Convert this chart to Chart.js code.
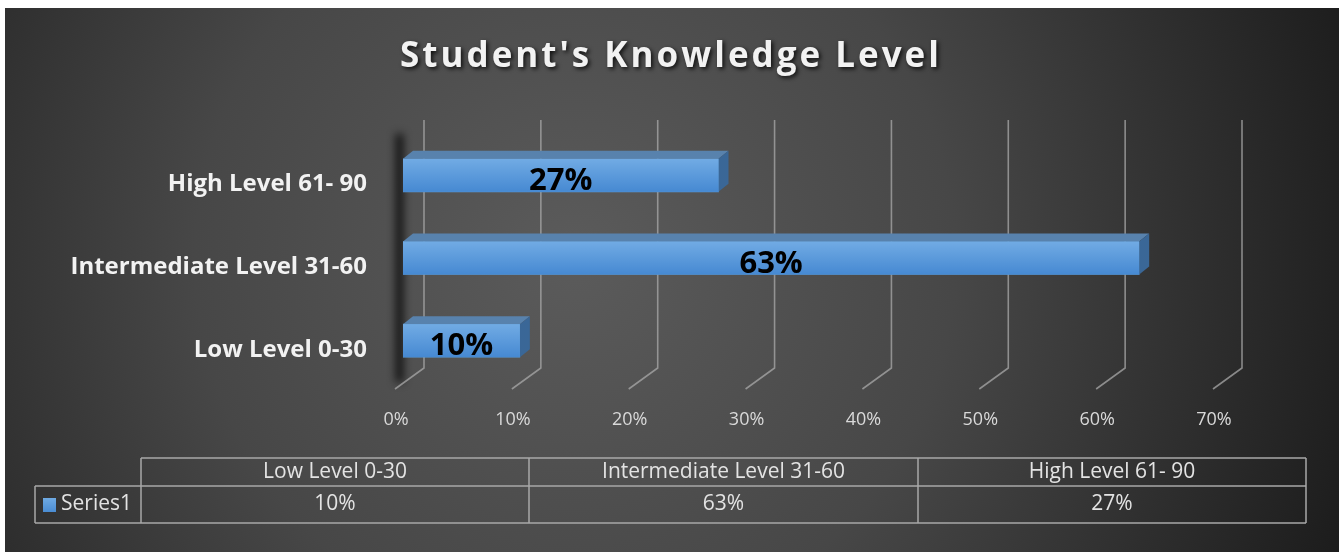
<!DOCTYPE html>
<html>
<head>
<meta charset="utf-8">
<script src="https://cdn.jsdelivr.net/npm/chart.js@4"></script>
<style>
  html, body { margin: 0; padding: 0; background: #fff; }
  #wrap { position: absolute; left: 5px; top: 8px; width: 1334px; height: 544px; }
</style>
</head>
<body>
<div id="wrap"><canvas id="myChart"></canvas></div>
<script>
const chartTitle = "Student's Knowledge Level";
const categories = ['Low Level 0-30', 'Intermediate Level 31-60', 'High Level 61- 90'];
const seriesName = 'Series1';
const seriesValues = [0.10, 0.63, 0.27];
const axisMin = 0;
const axisMax = 0.7;
const axisStep = 0.1;

const pct = v => Math.round(v * 100) + '%';
const FONT = '"Open Sans", sans-serif';

// dark radial background
const bgPlugin = {
  id: 'bg',
  beforeDraw(chart) {
    const ctx = chart.ctx;
    const w = chart.width, h = chart.height;
    const g = ctx.createRadialGradient(570, 250, 20, 570, 250, 820);
    g.addColorStop(0, '#5a5a5a');
    g.addColorStop(0.45, '#474747');
    g.addColorStop(1, '#1c1c1c');
    ctx.save();
    ctx.fillStyle = g;
    ctx.fillRect(0, 0, w, h);
    ctx.restore();
  }
};

// title with spacing + shadow
const titlePlugin = {
  id: 'title3d',
  afterDraw(chart) {
    const ctx = chart.ctx;
    ctx.save();
    ctx.font = 'bold 35px ' + FONT;
    ctx.letterSpacing = '3px';
    ctx.textAlign = 'center';
    ctx.textBaseline = 'middle';
    ctx.shadowColor = 'rgba(0,0,0,0.8)';
    ctx.shadowBlur = 4;
    ctx.shadowOffsetX = 2;
    ctx.shadowOffsetY = 2;
    ctx.fillStyle = '#f2f2f2';
    ctx.fillText(chartTitle, 666, 49);
    ctx.restore();
  }
};

// back wall grid with floor diagonals, and left wall shading
const gridPlugin = {
  id: 'grid3d',
  beforeDatasetsDraw(chart) {
    const ctx = chart.ctx;
    const xs = chart.scales.x;
    const area = chart.chartArea;
    const x0 = xs.getPixelForValue(axisMin);
    ctx.save();
    // soft shadow on the left wall (only the shadow is drawn on screen)
    ctx.shadowColor = 'rgba(0,0,0,0.85)';
    ctx.shadowBlur = 9;
    ctx.shadowOffsetX = 3000;
    ctx.fillStyle = '#000';
    ctx.fillRect(x0 - 7 - 3000, area.top, 7, area.bottom - area.top);
    ctx.restore();

    ctx.save();
    ctx.strokeStyle = 'rgba(170,170,170,0.75)';
    ctx.lineWidth = 1.6;
    xs.ticks.forEach(t => {
      const xp = xs.getPixelForValue(t.value);
      ctx.beginPath();
      ctx.moveTo(xp + 21, area.top - 14);
      ctx.lineTo(xp + 21, area.bottom - 14);
      ctx.lineTo(xp - 8, area.bottom + 7);
      ctx.stroke();
    });
    ctx.restore();
  }
};

// 3D faces for the bars and the value labels
const barPlugin = {
  id: 'bar3d',
  afterDatasetsDraw(chart) {
    const ctx = chart.ctx;
    const meta = chart.getDatasetMeta(0);
    const dx = 10, dy = -8;
    ctx.save();
    meta.data.forEach((el, i) => {
      const p = el.getProps(['x', 'y', 'base', 'height'], true);
      const l = p.base, r = p.x, t = p.y - p.height / 2, b = p.y + p.height / 2;
      // top face
      ctx.fillStyle = '#5882ad';
      ctx.beginPath();
      ctx.moveTo(l, t); ctx.lineTo(l + dx, t + dy); ctx.lineTo(r + dx, t + dy); ctx.lineTo(r, t);
      ctx.closePath(); ctx.fill();
      // side face
      ctx.fillStyle = '#3a6797';
      ctx.beginPath();
      ctx.moveTo(r, t); ctx.lineTo(r + dx, t + dy); ctx.lineTo(r + dx, b + dy); ctx.lineTo(r, b);
      ctx.closePath(); ctx.fill();
      // front face
      const g = ctx.createLinearGradient(0, t, 0, b);
      g.addColorStop(0, '#71abe4');
      g.addColorStop(1, '#4689d2');
      ctx.fillStyle = g;
      ctx.fillRect(l, t, r - l, b - t);
      // label
      ctx.fillStyle = '#000';
      ctx.font = 'bold 31px ' + FONT;
      ctx.textAlign = 'center';
      ctx.textBaseline = 'middle';
      ctx.fillText(pct(seriesValues[i]), (l + r) / 2, p.y + 6);
    });
    ctx.restore();
  }
};

// data table under the chart
const tablePlugin = {
  id: 'dataTable',
  afterDraw(chart) {
    const ctx = chart.ctx;
    const colX = [136, 524, 913, 1301];
    const keyLeft = 30;
    const rowY = [450, 478, 515];
    ctx.save();
    ctx.strokeStyle = '#a8a8a8';
    ctx.lineWidth = 1.5;
    ctx.beginPath();
    ctx.moveTo(colX[0], rowY[0]); ctx.lineTo(colX[3], rowY[0]);
    ctx.moveTo(keyLeft, rowY[1]); ctx.lineTo(colX[3], rowY[1]);
    ctx.moveTo(keyLeft, rowY[2]); ctx.lineTo(colX[3], rowY[2]);
    ctx.moveTo(keyLeft, rowY[1]); ctx.lineTo(keyLeft, rowY[2]);
    colX.forEach(x => { ctx.moveTo(x, rowY[0]); ctx.lineTo(x, rowY[2]); });
    ctx.stroke();
    ctx.fillStyle = '#e3e3e3';
    ctx.font = '21px ' + FONT;
    ctx.textAlign = 'center';
    ctx.textBaseline = 'middle';
    categories.forEach((c, i) => {
      const cx = (colX[i] + colX[i + 1]) / 2;
      ctx.fillText(c, cx, (rowY[0] + rowY[1]) / 2);
      ctx.fillText(pct(seriesValues[i]), cx, (rowY[1] + rowY[2]) / 2);
    });
    const kg = ctx.createLinearGradient(0, 490, 0, 504);
    kg.addColorStop(0, '#6faae3');
    kg.addColorStop(1, '#4a8cd3');
    ctx.fillStyle = kg;
    ctx.fillRect(keyLeft + 8, 490, 13, 14);
    ctx.fillStyle = '#e3e3e3';
    ctx.textAlign = 'left';
    ctx.fillText(seriesName, keyLeft + 26, (rowY[1] + rowY[2]) / 2);
    ctx.restore();
  }
};

const data = {
  labels: categories,
  datasets: [{
    label: seriesName,
    data: seriesValues,
    backgroundColor: '#5b9bd5',
    barThickness: 33
  }]
};

const config = {
  type: 'bar',
  data: data,
  options: {
    indexAxis: 'y',
    responsive: true,
    maintainAspectRatio: false,
    animation: false,
    layout: { padding: { top: 126, right: 118, left: 0, bottom: 0 } },
    scales: {
      x: {
        min: axisMin,
        max: axisMax,
        ticks: {
          stepSize: axisStep,
          callback: v => pct(v),
          color: '#d9d9d9',
          font: { family: FONT, size: 18 },
          padding: 27,
          labelOffset: -7
        },
        grid: { display: false, drawTicks: false },
        border: { display: false },
        afterFit: s => { s.height = 170; }
      },
      y: {
        reverse: true,
        ticks: {
          color: '#f2f2f2',
          font: { family: FONT, size: 24, weight: 'bold' },
          padding: 36,
          labelOffset: 9
        },
        grid: { display: false, drawTicks: false },
        border: { display: false },
        afterFit: s => { s.width = 398; }
      }
    },
    plugins: {
      legend: { display: false },
      tooltip: { enabled: false }
    }
  },
  plugins: [bgPlugin, gridPlugin, barPlugin, tablePlugin, titlePlugin]
};

const myChart = new Chart(document.getElementById('myChart'), config);
</script>
</body>
</html>
